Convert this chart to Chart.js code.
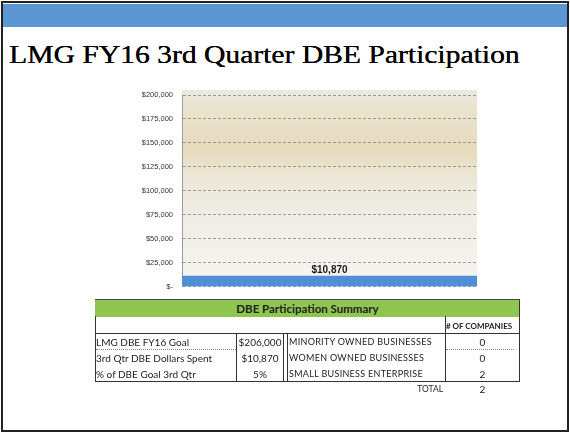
<!DOCTYPE html>
<html>
<head>
<meta charset="utf-8">
<script src="https://cdn.jsdelivr.net/npm/chart.js@4/dist/chart.umd.min.js"></script>
<style>
  html, body { margin: 0; padding: 0; background: #fff; }
  #slide { position: relative; width: 570px; height: 432px; overflow: hidden; background: #fff; }
  #frame { position: absolute; left: 1px; top: 1px; width: 564px; height: 427px; border: 2px solid #222; }
  #band { position: absolute; left: 3px; top: 4px; width: 564px; height: 23px; background: #5d97d3; }
  #title { position: absolute; left: 9px; top: 40px; font-family: "Liberation Serif", serif; font-size: 26px;
           color: #000; white-space: nowrap; transform-origin: 0 0; text-shadow: 0.3px 0 0 #000; }
  #chartBox { position: absolute; left: 100px; top: 80px; width: 400px; height: 220px; }
  .ln { position: absolute; background: #333; }
  .dot { position: absolute; border-top: 1px dotted #888; height: 0; }
  .tx { position: absolute; font-family: Lato, "Open Sans", sans-serif; font-size: 10px; color: #222; white-space: nowrap; line-height: 12px; }
  #summaryHead { position: absolute; left: 95px; top: 299px; width: 425px; height: 17px; background: #8fc650;
                 border-top: 1px solid #445; font-family: Lato, sans-serif; font-weight: bold; font-size: 11.5px;
                 color: #222; text-align: center; line-height: 17px; }
</style>
</head>
<body>
<div id="slide">
  <div id="band"></div>
  <div id="frame"></div>
  <div id="title">LMG FY16 3rd Quarter DBE Participation</div>
  <div id="chartBox"><canvas id="dbeChart"></canvas></div>
  <div id="summaryHead">DBE Participation Summary</div>
  <div id="table"></div>
</div>
<script>
// chart data
const categories = ['3rd Qtr DBE Dollars Spent'];
const dollarsSpent = [10870];
const yMax = 200000;
const yStep = 25000;

// summary table data
const summaryLabels = ['LMG DBE FY16 Goal', '3rd Qtr DBE Dollars Spent', '% of DBE Goal 3rd Qtr'];
const summaryValues = ['$206,000', '$10,870', '5%'];
const businessTypes = ['MINORITY  OWNED  BUSINESSES', 'WOMEN  OWNED BUSINESSES', 'SMALL BUSINESS ENTERPRISE'];
const companyCounts = [0, 0, 2];
const totalCompanies = 2;

// squeeze title to slide width
const title = document.getElementById('title');
title.style.transform = 'scaleX(' + (510 / title.offsetWidth) + ')';

const money = v => v === 0 ? '$-' : '$' + v.toLocaleString('en-US');

const plotBackground = {
  id: 'plotBackground',
  beforeDraw(chart) {
    const { ctx, chartArea: a } = chart;
    const top = a.top - 5;
    const g = ctx.createLinearGradient(0, top, 0, a.bottom);
    g.addColorStop(0, '#ebe9df');
    g.addColorStop(0.14, '#e9e1c9');
    g.addColorStop(0.3, '#e7dbbd');
    g.addColorStop(0.45, '#ece7d8');
    g.addColorStop(0.65, '#efede5');
    g.addColorStop(1, '#f6f5f0');
    ctx.save();
    ctx.fillStyle = g;
    ctx.fillRect(a.left, top, a.right - a.left, a.bottom - top);
    ctx.restore();
  }
};

const barLabel = {
  id: 'barLabel',
  afterDatasetsDraw(chart) {
    const { ctx } = chart;
    chart.getDatasetMeta(0).data.forEach((bar, i) => {
      ctx.save();
      ctx.font = 'bold 10px "Liberation Sans", Arial, sans-serif';
      ctx.fillStyle = '#1a1a1a';
      ctx.textAlign = 'center';
      ctx.textBaseline = 'bottom';
      ctx.fillText(money(dollarsSpent[i]), bar.x, bar.y - 1);
      ctx.restore();
    });
  }
};

new Chart(document.getElementById('dbeChart'), {
  type: 'bar',
  data: {
    labels: categories,
    datasets: [{
      data: dollarsSpent,
      backgroundColor: '#4f8fd5',
      barPercentage: 1,
      categoryPercentage: 1
    }]
  },
  options: {
    responsive: true,
    maintainAspectRatio: false,
    animation: false,
    layout: { padding: { top: 15, right: 23, bottom: 10, left: 0 } },
    plugins: { legend: { display: false }, tooltip: { enabled: false } },
    scales: {
      x: { display: false },
      y: {
        min: 0,
        max: yMax,
        afterFit(scale) { scale.width = 82; },
        ticks: {
          stepSize: yStep,
          padding: 9,
          color: '#333',
          font: { family: '"Liberation Sans", Arial, sans-serif', size: 7.5 },
          callback: v => money(v)
        },
        grid: { color: '#858585', drawTicks: false, lineWidth: 0.8 },
        border: { color: '#9a9a9a', dash: [3, 2] }
      }
    }
  },
  plugins: [plotBackground, barLabel]
});

// summary table
const table = document.getElementById('table');
function add(cls, css, text) {
  const d = document.createElement('div');
  d.className = cls;
  Object.assign(d.style, css);
  if (text !== undefined) d.textContent = text;
  table.appendChild(d);
}
// frame lines
add('ln', { left: '95px', top: '316px', width: '1px', height: '66px' });
add('ln', { left: '519px', top: '300px', width: '1px', height: '82px' });
add('ln', { left: '445px', top: '316px', width: '1px', height: '66px' });
add('ln', { left: '95px', top: '333px', width: '425px', height: '1px' });
add('ln', { left: '95px', top: '381px', width: '425px', height: '1px' });
add('ln', { left: '236px', top: '333px', width: '1px', height: '49px' });
add('ln', { left: '283px', top: '333px', width: '1px', height: '49px' });
add('ln', { left: '287px', top: '333px', width: '1px', height: '49px' });
add('dot', { left: '96px', top: '349px', width: '140px' });
add('dot', { left: '446px', top: '349px', width: '68px' });
add('tx', { left: '446px', top: '320px', fontSize: '8px', fontWeight: 'bold', letterSpacing: '0px' }, '# OF COMPANIES');

const rowTops = [336, 352, 368];
summaryLabels.forEach((s, i) => {
  add('tx', { left: '96px', top: rowTops[i] + 'px' }, s);
  add('tx', { left: '237px', width: '46px', textAlign: 'center', top: rowTops[i] + 'px' }, summaryValues[i]);
  add('tx', { left: '289px', top: rowTops[i] + 'px', fontSize: '9px', letterSpacing: '0.3px' }, businessTypes[i]);
  add('tx', { left: '446px', width: '73px', textAlign: 'center', top: rowTops[i] + 'px' }, String(companyCounts[i]));
});
add('tx', { left: '380px', width: '63px', textAlign: 'right', top: '383px', fontSize: '8.5px' }, 'TOTAL');
add('tx', { left: '446px', width: '73px', textAlign: 'center', top: '383px' }, String(totalCompanies));
</script>
</body>
</html>
